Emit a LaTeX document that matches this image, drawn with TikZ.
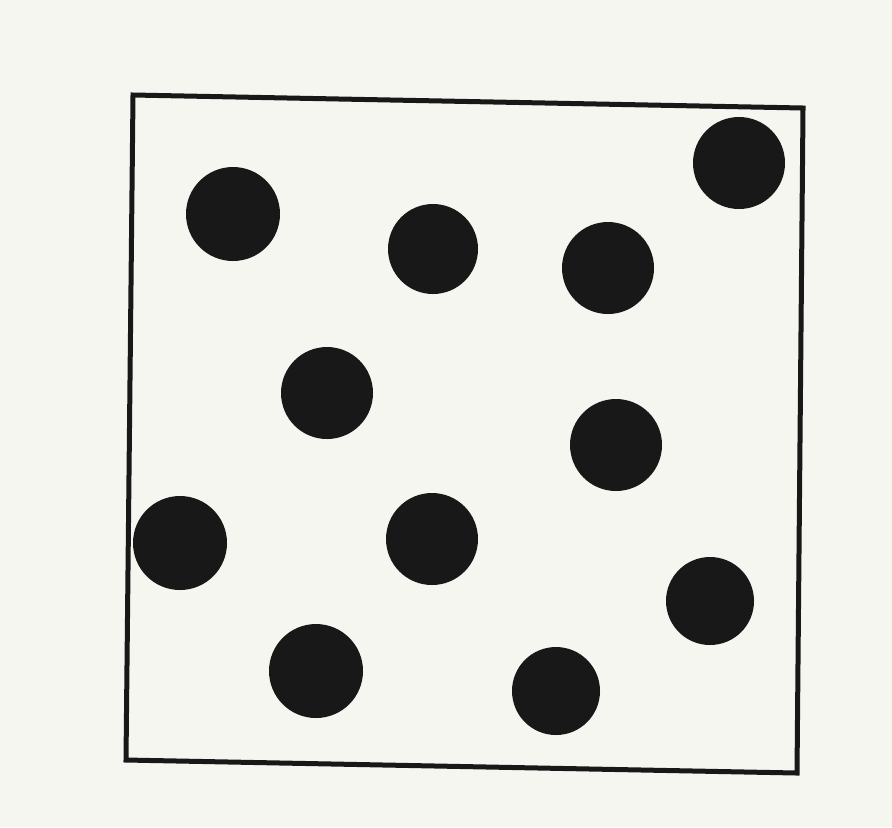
\documentclass[tikz,border=0pt]{standalone}
\usetikzlibrary{positioning}
\definecolor{paper}{RGB}{246,246,241}
\definecolor{ink}{RGB}{24,24,24}
\tikzset{
  frame/.style = {draw=ink, line width=0.5mm, line join=miter},
  dot/.style   = {circle, fill=ink, inner sep=0pt, minimum size=9.2mm},
}

\begin{document}
\begin{tikzpicture}[x=0.1mm, y=-0.1mm]
  \fill[paper] (0,0) rectangle (892,827);
  \useasboundingbox (0,0) rectangle (892,827);
  % corners of the box
  \coordinate (tl) at (133,95);
  \coordinate (tr) at (803,108);
  \coordinate (br) at (797,773);
  \coordinate (bl) at (126,760);
  \draw[frame] (tl) -- (tr) -- (br) -- (bl) -- cycle;
  % the dots
  \foreach \n/\x/\y/\d in {a/233/214/9.4, b/433/249/9.0, c/608/268/9.2,
                           d/739/163/9.2, e/327/393/9.2, f/616/445/9.2,
                           g/180/543/9.4, h/432/539/9.2, i/710/601/8.8,
                           j/316/671/9.4, k/556/691/8.8} {
    \node[dot, minimum size=\d mm] (\n) at (\x,\y) {};
  }
\end{tikzpicture}
\end{document}
